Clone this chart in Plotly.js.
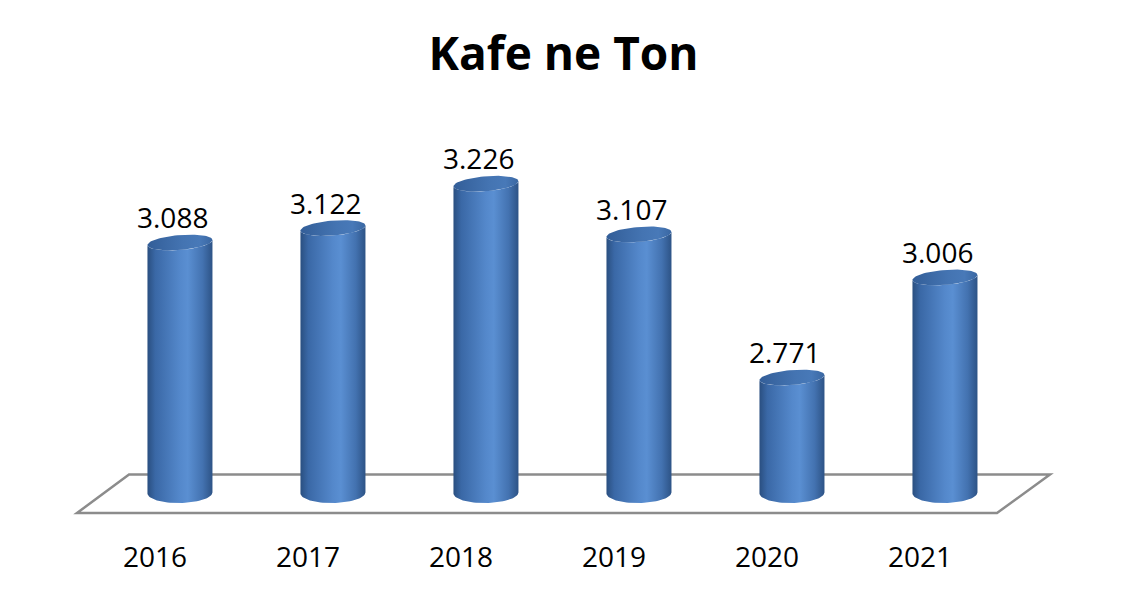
<!DOCTYPE html>
<html>
<head>
<meta charset="utf-8">
<script src="https://cdn.plot.ly/plotly-3.0.1.min.js"></script>
<style>html,body{margin:0;padding:0;background:#fff;}#chart{width:1127px;height:597px;}</style>
</head>
<body>
<div id="chart"></div>
<script>
const years = ['2016', '2017', '2018', '2019', '2020', '2021'];
const values = [3.088, 3.122, 3.226, 3.107, 2.771, 3.006];
const chartTitle = 'Kafe ne Ton';
const baseValue = 2.5;

// layout geometry
const W = 1127, H = 597;
const mL = 70, mR = 70, mT = 150, mB = 77;
const plotW = W - mL - mR, plotH = H - mT - mB;
const yRange = [2.4366, 3.3052];
const xRange = [-0.5, 5.5];
const barDomain = [0.0339, 0.9640];
const labelDomain = [0.0086, 0.9387];
const pxY = plotH / (yRange[1] - yRange[0]);
const pxX = plotW * (barDomain[1] - barDomain[0]) / (xRange[1] - xRange[0]);

const a = 32.5 / pxX;       // cylinder half width (data units)
const bTop = 7.5 / pxY;     // top ellipse vertical radius
const bBot = 10 / pxY;      // bottom ellipse vertical radius
const sTop = 2.5 / pxY;     // tilt of top ellipse
const sBot = 0.5 / pxY;     // tilt of bottom ellipse
const N = 40;

function ePt(cx, cy, b, s, t) {
  return [cx + a * Math.cos(t), cy + b * Math.sin(t) + s * Math.cos(t)];
}

const traces = [];
const annotations = [];
values.forEach((v, i) => {
  const xs = [], ys = [];
  let p = ePt(i, baseValue, bBot, sBot, Math.PI); xs.push(p[0]); ys.push(p[1]);
  for (let k = 0; k <= N; k++) {
    const t = Math.PI + Math.PI * k / N;
    p = ePt(i, v, bTop, sTop, t); xs.push(p[0]); ys.push(p[1]);
  }
  for (let k = 0; k <= N; k++) {
    const t = 2 * Math.PI - Math.PI * k / N;
    p = ePt(i, baseValue, bBot, sBot, t); xs.push(p[0]); ys.push(p[1]);
  }
  traces.push({
    type: 'scatter', x: xs, y: ys, xaxis: 'x2', yaxis: 'y',
    mode: 'lines', fill: 'toself', line: {width: 0, color: 'rgba(0,0,0,0)'},
    fillcolor: '#4A7BBE',
    fillgradient: {type: 'horizontal', colorscale: [
      [0, '#2A4F80'], [0.12, '#3A68A6'], [0.5, '#5488CB'], [0.62, '#5A8FD2'],
      [0.85, '#4372B0'], [1, '#2D5386']]},
    hoverinfo: 'skip', showlegend: false
  });
  const tx = [], ty = [];
  for (let k = 0; k <= 2 * N; k++) {
    const t = 2 * Math.PI * k / (2 * N);
    p = ePt(i, v, bTop, sTop, t); tx.push(p[0]); ty.push(p[1]);
  }
  traces.push({
    type: 'scatter', x: tx, y: ty, xaxis: 'x2', yaxis: 'y',
    mode: 'lines', fill: 'toself', line: {width: 0, color: 'rgba(0,0,0,0)'},
    fillcolor: '#4270AC',
    fillgradient: {type: 'horizontal', colorscale: [
      [0, '#335E98'], [0.55, '#4474B2'], [0.8, '#4879B8'], [1, '#3A67A2']]},
    hoverinfo: 'skip', showlegend: false
  });
  annotations.push({
    x: i, y: v + bTop, xref: 'x2', yref: 'y',
    text: v.toFixed(3), showarrow: false,
    xanchor: 'center', yanchor: 'bottom', xshift: -7, yshift: -3,
    font: {family: 'Open Sans, Noto Sans, sans-serif', size: 28, color: '#000'}
  });
});

// invisible trace to carry the category axis labels
traces.push({
  type: 'scatter', x: years.map((_, i) => i), y: values, xaxis: 'x', yaxis: 'y',
  mode: 'markers', marker: {opacity: 0}, hoverinfo: 'skip', showlegend: false
});

const layout = {
  width: W, height: H,
  margin: {l: mL, r: mR, t: mT, b: mB, pad: 0},
  paper_bgcolor: '#ffffff', plot_bgcolor: 'rgba(0,0,0,0)',
  showlegend: false,
  title: {
    text: '<b>' + chartTitle + '</b>',
    font: {family: 'Open Sans, Noto Sans, sans-serif', size: 46, color: '#000'},
    x: 0.5, xanchor: 'center', y: 1 - 54 / H, yanchor: 'middle', yref: 'container'
  },
  xaxis: {
    domain: labelDomain, range: xRange, anchor: 'y',
    tickvals: years.map((_, i) => i), ticktext: years,
    showgrid: false, zeroline: false, showline: false,
    ticks: 'outside', ticklen: 12, tickcolor: 'rgba(0,0,0,0)',
    tickfont: {family: 'Open Sans, Noto Sans, sans-serif', size: 28, color: '#000'},
    fixedrange: true
  },
  xaxis2: {
    domain: barDomain, range: xRange, anchor: 'y',
    showgrid: false, zeroline: false, showline: false, showticklabels: false, ticks: '',
    fixedrange: true
  },
  yaxis: {
    range: yRange, showgrid: false, zeroline: false, showline: false,
    showticklabels: false, ticks: '', fixedrange: true
  },
  shapes: [{
    type: 'path', xref: 'paper', yref: 'paper', layer: 'below',
    path: 'M 0.0598 0.123 L 0.9929 0.123 L 0.9392 0.0189 L 0.0071 0.0189 Z',
    line: {color: '#8C8C8C', width: 2.5}, fillcolor: 'rgba(0,0,0,0)'
  }],
  annotations: annotations
};

Plotly.newPlot('chart', traces, layout, {displayModeBar: false, staticPlot: true});
</script>
</body>
</html>
